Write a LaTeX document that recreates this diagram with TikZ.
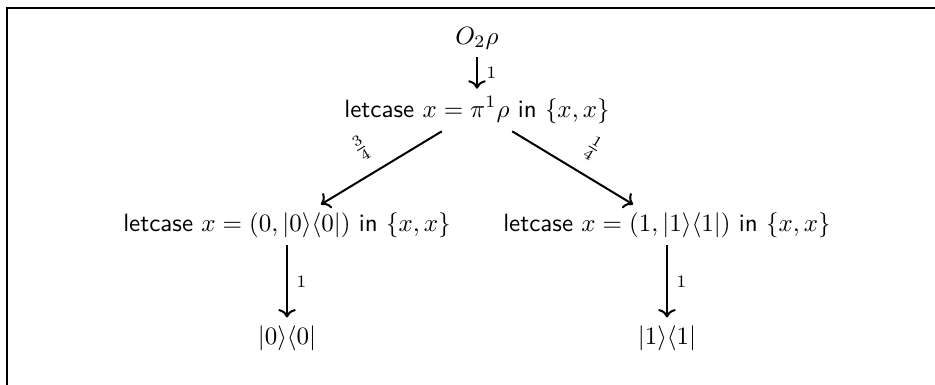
\documentclass[tikz,border=0pt]{standalone}
\usepackage{amsmath,amssymb}
\usepackage{tikz}
\usetikzlibrary{arrows.meta,positioning}

\begin{document}
\begin{tikzpicture}[
    x=0.4pt, y=-0.4pt,
    term/.style={inner sep=3pt},
    arrow/.style={->, thick},
    prob/.style={font=\scriptsize, right},
    frac/.style={font=\footnotesize, sloped, above=2pt, pos=0.55}
  ]
    \useasboundingbox (0,0) rectangle (935,385);
    \draw[line width=1pt] (7,385) -- (7,8) -- (935,8);
    \node[term] (t0) at (477,38) {$O_2\rho$};
    \node[term] (t1) at (477,110) {\textsf{letcase} $x = \pi^1\rho$ \textsf{in} $\{x,x\}$};
    \node[term] (t2) at (287,225) {\textsf{letcase} $x = (0,|0\rangle\langle0|)$ \textsf{in} $\{x,x\}$};
    \node[term] (t3) at (667,225) {\textsf{letcase} $x = (1,|1\rangle\langle1|)$ \textsf{in} $\{x,x\}$};
    \node[term] (t4) at (287,338) {$|0\rangle\langle0|$};
    \node[term] (t5) at (667,338) {$|1\rangle\langle1|$};
    \draw[arrow] (t0) -- node[prob] {$1$} (t1);
    \draw[arrow] (t1) -- node[frac] {$\frac{3}{4}$} (t2);
    \draw[arrow] (t1) -- node[frac] {$\frac{1}{4}$} (t3);
    \draw[arrow] (t2) -- node[prob] {$1$} (t4);
    \draw[arrow] (t3) -- node[prob] {$1$} (t5);
\end{tikzpicture}
\end{document}
